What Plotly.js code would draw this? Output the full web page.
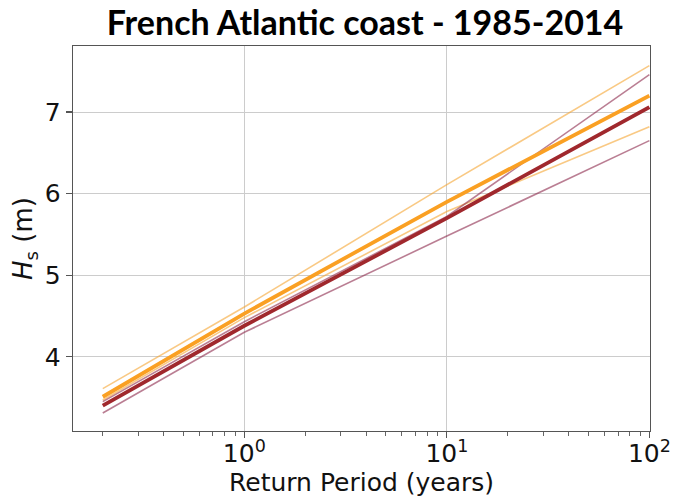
<!DOCTYPE html>
<html>
<head>
<meta charset="utf-8">
<script src="https://cdn.plot.ly/plotly-3.0.1.min.js"></script>
<style>
  html, body { margin: 0; padding: 0; background: #fff; }
  #chart { width: 676px; height: 498px; }
</style>
</head>
<body>
<div id="chart"></div>
<script>
// Return periods (years) at which the return levels are given
const returnPeriod = [0.2, 1, 10, 100];

// Significant wave height return levels Hs (m)
const hsOrange      = [3.51, 4.53, 5.90, 7.20];
const hsOrangeUpper = [3.61, 4.61, 6.11, 7.57];
const hsOrangeLower = [3.47, 4.48, 5.78, 6.82];
const hsRed         = [3.40, 4.38, 5.70, 7.06];
const hsRedUpper    = [3.45, 4.43, 5.72, 7.46];
const hsRedLower    = [3.31, 4.30, 5.48, 6.65];

const xTickVals = [1, 10, 100];
const xTickText = ['10<sup>0</sup>', '10<sup>1</sup>', '10<sup>2</sup>'];
const yTickVals = [4, 5, 6, 7];

const minorVals = [];
[0.1, 1, 10].forEach(d => { for (let k = 2; k <= 9; k++) minorVals.push(+(k * d).toFixed(3)); });

function line(y, color, width) {
  return { x: returnPeriod, y: y, mode: 'lines', type: 'scatter',
           line: { color: color, width: width }, hoverinfo: 'skip', showlegend: false };
}

const traces = [
  line(hsOrangeUpper, 'rgba(245,165,50,0.6)', 1.6),
  line(hsOrangeLower, 'rgba(245,165,50,0.6)', 1.6),
  line(hsRedUpper,    'rgba(140,40,75,0.6)', 1.6),
  line(hsRedLower,    'rgba(140,40,75,0.6)', 1.6),
  line(hsOrange,      'rgb(250,160,35)', 3.8),
  line(hsRed,         'rgb(160,40,45)', 3.8)
];

const sansFamily = '"DejaVu Sans", Verdana, sans-serif';
const tickFont = { family: sansFamily, size: 25, color: '#111' };

const layout = {
  width: 676, height: 498,
  margin: { l: 73, r: 26, t: 46, b: 67 },
  paper_bgcolor: '#fff', plot_bgcolor: '#fff',
  title: {
    text: '<b>French Atlantic coast - 1985-2014</b>',
    font: { family: 'Lato', size: 34, color: '#000' },
    x: 0.54, xref: 'container', xanchor: 'center',
    y: 0.953, yref: 'container', yanchor: 'middle'
  },
  xaxis: {
    type: 'log', range: [-0.846, 2.003],
    tickmode: 'array', tickvals: xTickVals, ticktext: xTickText,
    ticks: 'outside', ticklen: 6, tickwidth: 1.2, tickcolor: '#555',
    tickfont: tickFont, ticklabelstandoff: -6,
    showgrid: true, gridcolor: '#cccccc', gridwidth: 1,
    showline: true, linecolor: '#555', linewidth: 1.3, mirror: true,
    zeroline: false,
    minor: { tickmode: 'array', tickvals: minorVals, ticks: 'outside', ticklen: 3.5,
             tickwidth: 1, tickcolor: '#666', showgrid: false }
  },
  yaxis: {
    range: [3.09, 7.81],
    tickmode: 'array', tickvals: yTickVals,
    ticks: 'outside', ticklen: 6, tickwidth: 1.2, tickcolor: '#555',
    tickfont: tickFont,
    showgrid: true, gridcolor: '#cccccc', gridwidth: 1,
    showline: true, linecolor: '#555', linewidth: 1.3, mirror: true,
    zeroline: false,
    title: { text: '<i>H</i><sub>s</sub> (m)', font: { family: sansFamily, size: 26, color: '#111' }, standoff: 4 }
  },
  // x-axis caption placed just under the tick labels
  annotations: [{
    text: 'Return Period (years)',
    font: { family: sansFamily, size: 25, color: '#111' },
    xref: 'paper', yref: 'paper', x: 0.5, y: -0.133,
    xanchor: 'center', yanchor: 'middle', showarrow: false
  }]
};

Plotly.newPlot('chart', traces, layout, { staticPlot: true, displayModeBar: false });
</script>
</body>
</html>
